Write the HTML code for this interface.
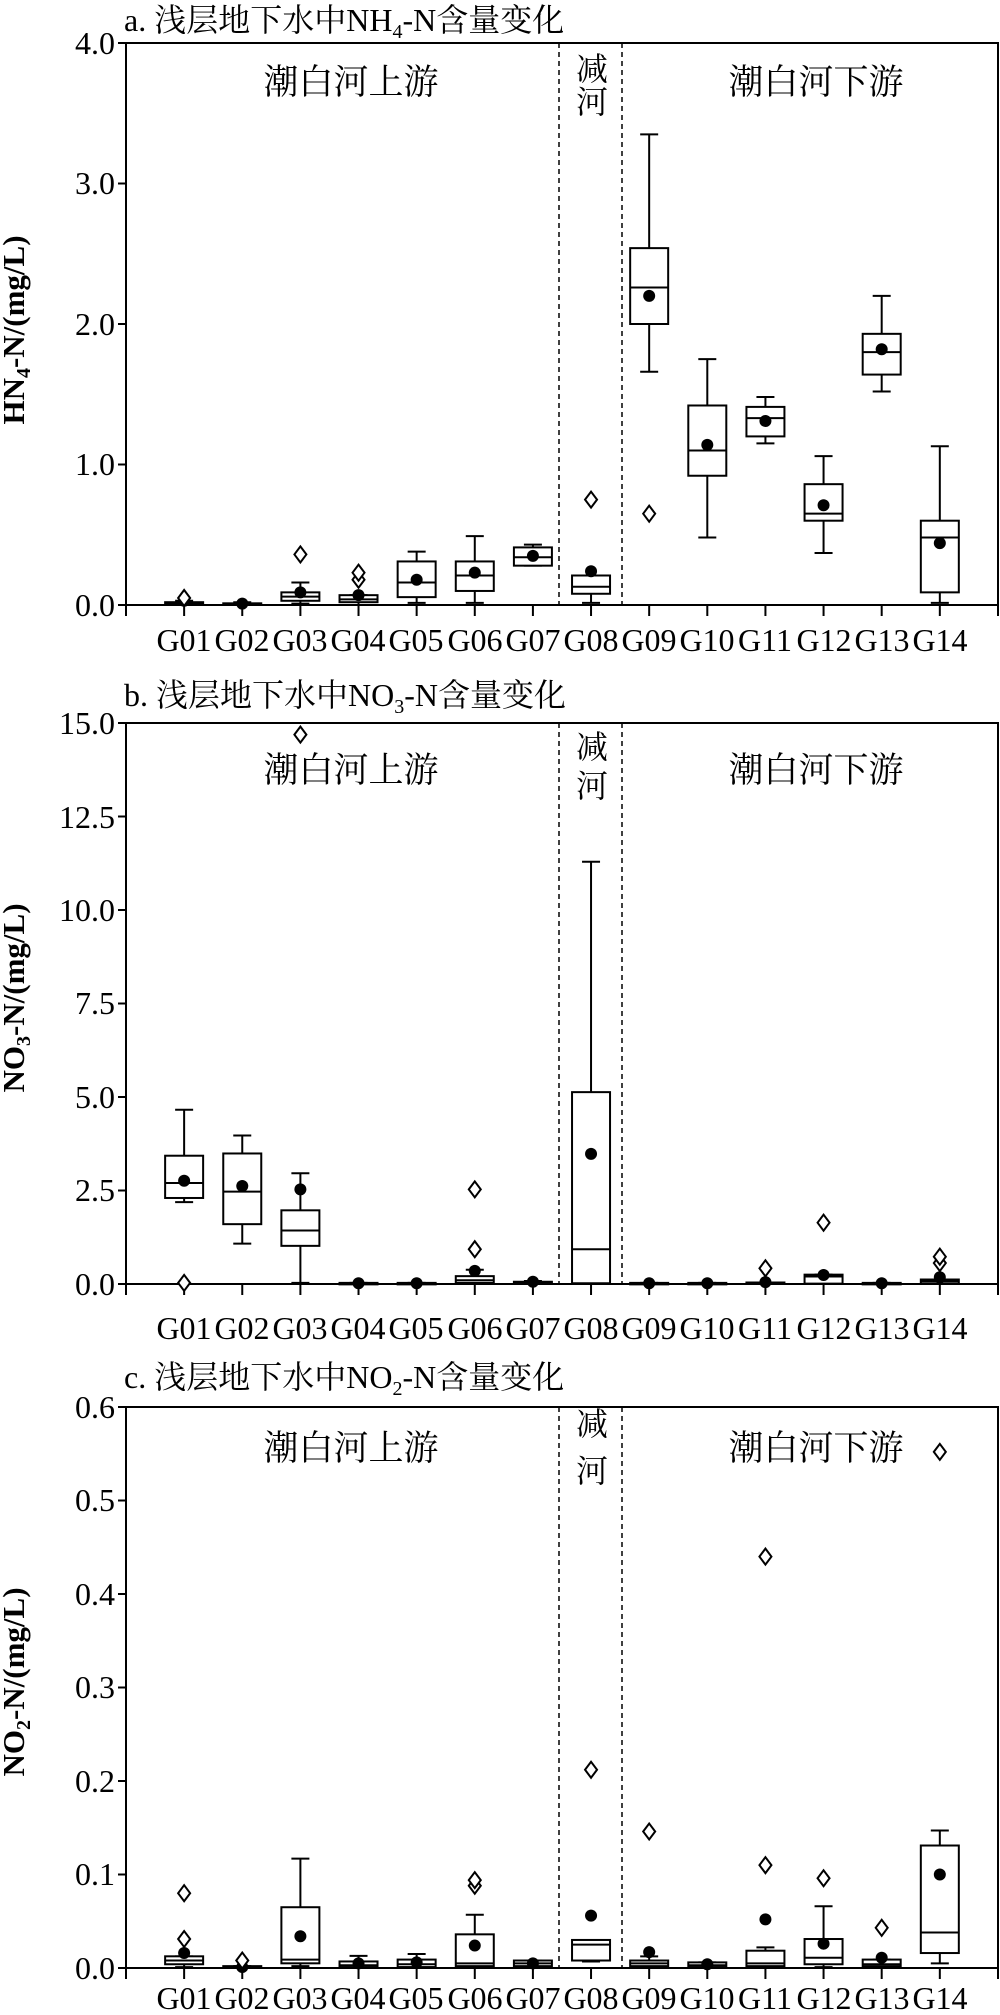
<!DOCTYPE html>
<html><head><meta charset="utf-8"><style>
html,body{margin:0;padding:0;background:#fff;}
svg{display:block;}
text{font-family:"Liberation Serif","Noto Serif CJK SC","Noto Sans CJK SC",serif;fill:#000;}
.t{font-size:32px;}
.tk{font-size:32px;}
.rg{font-size:35px;}
.yl{font-size:31px;font-weight:bold;}
</style></head><body>
<svg id="s" width="1000" height="2015" viewBox="0 0 1000 2015" xmlns="http://www.w3.org/2000/svg">
<text class="t" x="124" y="31">a. 浅层地下水中NH<tspan font-size="20" dy="7">4</tspan><tspan dy="-7">-N含量变化</tspan></text>
<text class="t" x="124" y="706">b. 浅层地下水中NO<tspan font-size="20" dy="7">3</tspan><tspan dy="-7">-N含量变化</tspan></text>
<text class="t" x="124" y="1388">c. 浅层地下水中NO<tspan font-size="20" dy="7">2</tspan><tspan dy="-7">-N含量变化</tspan></text>
<text class="yl" transform="translate(24,330) rotate(-90)" text-anchor="middle">HN<tspan font-size="20" dy="6">4</tspan><tspan dy="-6">-N/(mg/L)</tspan></text>
<text class="yl" transform="translate(24,998) rotate(-90)" text-anchor="middle">NO<tspan font-size="20" dy="6">3</tspan><tspan dy="-6">-N/(mg/L)</tspan></text>
<text class="yl" transform="translate(24,1682) rotate(-90)" text-anchor="middle">NO<tspan font-size="20" dy="6">2</tspan><tspan dy="-6">-N/(mg/L)</tspan></text>
<g class="tk" text-anchor="end">
<text x="115" y="54">4.0</text><text x="115" y="194">3.0</text><text x="115" y="335">2.0</text><text x="115" y="475">1.0</text><text x="115" y="616">0.0</text>
<text x="115" y="734">15.0</text><text x="115" y="828">12.5</text><text x="115" y="921">10.0</text><text x="115" y="1014">7.5</text><text x="115" y="1108">5.0</text><text x="115" y="1201">2.5</text><text x="115" y="1295">0.0</text>
<text x="115" y="1418">0.6</text><text x="115" y="1511">0.5</text><text x="115" y="1605">0.4</text><text x="115" y="1698">0.3</text><text x="115" y="1792">0.2</text><text x="115" y="1885">0.1</text><text x="115" y="1979">0.0</text>
</g>
<g class="tk" text-anchor="middle">
<text x="184" y="651">G01</text><text x="242" y="651">G02</text><text x="300" y="651">G03</text><text x="358" y="651">G04</text><text x="416" y="651">G05</text><text x="475" y="651">G06</text><text x="533" y="651">G07</text><text x="591" y="651">G08</text><text x="649" y="651">G09</text><text x="707" y="651">G10</text><text x="765" y="651">G11</text><text x="824" y="651">G12</text><text x="882" y="651">G13</text><text x="940" y="651">G14</text>
<text x="184" y="1339">G01</text><text x="242" y="1339">G02</text><text x="300" y="1339">G03</text><text x="358" y="1339">G04</text><text x="416" y="1339">G05</text><text x="475" y="1339">G06</text><text x="533" y="1339">G07</text><text x="591" y="1339">G08</text><text x="649" y="1339">G09</text><text x="707" y="1339">G10</text><text x="765" y="1339">G11</text><text x="824" y="1339">G12</text><text x="882" y="1339">G13</text><text x="940" y="1339">G14</text>
<text x="184" y="2009">G01</text><text x="242" y="2009">G02</text><text x="300" y="2009">G03</text><text x="358" y="2009">G04</text><text x="416" y="2009">G05</text><text x="475" y="2009">G06</text><text x="533" y="2009">G07</text><text x="591" y="2009">G08</text><text x="649" y="2009">G09</text><text x="707" y="2009">G10</text><text x="765" y="2009">G11</text><text x="824" y="2009">G12</text><text x="882" y="2009">G13</text><text x="940" y="2009">G14</text>
</g>
<g class="rg" text-anchor="middle">
<text x="351" y="94">潮白河上游</text><text x="816" y="94">潮白河下游</text><text x="592" y="80" font-size="32">减</text><text x="592" y="113" font-size="32">河</text>
<text x="351" y="782">潮白河上游</text><text x="816" y="782">潮白河下游</text><text x="592" y="758" font-size="32">减</text><text x="592" y="797" font-size="32">河</text>
<text x="351" y="1460">潮白河上游</text><text x="816" y="1460">潮白河下游</text><text x="592" y="1435" font-size="32">减</text><text x="592" y="1482" font-size="32">河</text>
</g>
<g id="g"></g>
</svg>
<script>
var NS="http://www.w3.org/2000/svg",G=document.getElementById("g");
function el(t,a){var e=document.createElementNS(NS,t);for(var k in a)e.setAttribute(k,a[k]);G.appendChild(e);return e;}
function line(x1,y1,x2,y2,w,d){var a={x1:x1,y1:y1,x2:x2,y2:y2,stroke:"#000","stroke-width":w||2};if(d)a["stroke-dasharray"]=d;el("line",a);}
var panels=[
 {top:43,zero:605,ppu:140.5,ticks:[0,1,2,3,4],data:[
 [0,0.005,0.01,0.02,0.03,0.03,[0.05]],
 [0,0.003,0.006,0.012,0.02,0.01,[]],
 [0.01,0.03,0.06,0.09,0.16,0.09,[0.36]],
 [0,0.02,0.04,0.07,0.07,0.07,[0.18,0.23]],
 [0.015,0.056,0.16,0.31,0.38,0.18,[]],
 [0.015,0.10,0.21,0.31,0.49,0.23,[]],
 [0.28,0.28,0.34,0.41,0.43,0.35,[]],
 [0.015,0.08,0.13,0.21,0.21,0.24,[0.75]],
 [1.66,2.0,2.26,2.54,3.35,2.2,[0.65]],
 [0.48,0.92,1.10,1.42,1.75,1.14,[]],
 [1.15,1.2,1.33,1.41,1.48,1.31,[]],
 [0.37,0.6,0.65,0.86,1.06,0.71,[]],
 [1.52,1.64,1.80,1.93,2.2,1.82,[]],
 [0.015,0.09,0.48,0.6,1.13,0.44,[]]]},
 {top:723,zero:1284,ppu:37.4,ticks:[0,2.5,5,7.5,10,12.5,15],data:[
 [2.19,2.3,2.7,3.43,4.66,2.76,[0.03]],
 [1.08,1.6,2.47,3.49,3.97,2.62,[]],
 [0.03,1.02,1.43,1.97,2.96,2.53,[14.69]],
 [0,0.01,0.02,0.03,0.03,0.02,[]],
 [0,0.01,0.02,0.03,0.03,0.02,[]],
 [0,0.03,0.1,0.21,0.38,0.35,[0.93,2.53]],
 [0,0.02,0.04,0.06,0.08,0.06,[]],
 [0,0.02,0.93,5.13,11.29,3.48,[]],
 [0,0.01,0.02,0.03,0.03,0.02,[]],
 [0,0.01,0.02,0.03,0.03,0.02,[]],
 [0,0.01,0.02,0.04,0.04,0.05,[0.42]],
 [0,0.01,0.2,0.25,0.25,0.24,[1.64]],
 [0,0.01,0.02,0.03,0.03,0.02,[]],
 [0,0.02,0.08,0.12,0.12,0.18,[0.56,0.73]]]},
 {top:1407,zero:1968,ppu:935,ticks:[0,0.1,0.2,0.3,0.4,0.5,0.6],data:[
 [0.001,0.004,0.008,0.0125,0.0125,0.016,[0.031,0.08]],
 [0,0.0005,0.001,0.002,0.002,0.001,[0.008]],
 [0.002,0.005,0.009,0.065,0.117,0.034,[]],
 [0.001,0.001,0.003,0.007,0.013,0.005,[]],
 [0.001,0.001,0.004,0.009,0.015,0.006,[]],
 [0.001,0.002,0.005,0.036,0.057,0.024,[0.088,0.094]],
 [0.002,0.002,0.005,0.008,0.008,0.005,[]],
 [0.007,0.008,0.025,0.030,0.030,0.056,[0.212]],
 [0.001,0.002,0.005,0.008,0.0125,0.017,[0.146]],
 [0.001,0.001,0.003,0.006,0.006,0.004,[]],
 [0.001,0.002,0.005,0.0185,0.022,0.052,[0.11,0.44]],
 [0.001,0.004,0.011,0.031,0.066,0.026,[0.096]],
 [0.001,0.002,0.004,0.009,0.009,0.011,[0.043]],
 [0.005,0.016,0.038,0.131,0.147,0.10,[0.552]]]}
];
panels.forEach(function(p){
 var L=126,R=998;
 el("rect",{x:L,y:p.top,width:R-L,height:p.zero-p.top,fill:"none",stroke:"#000","stroke-width":2});
 line(559,p.top,559,p.zero,1.5,"5,4");line(622,p.top,622,p.zero,1.5,"5,4");
 p.ticks.forEach(function(v){var y=p.zero-v*p.ppu;line(L-8,y,L,y,2);});
 line(L,p.zero,L,p.zero+11,2);line(R,p.zero,R,p.zero+11,2);
 for(var i=1;i<=14;i++){var x=126+58.13*i;line(x,p.zero,x,p.zero+11,2);}
 p.data.forEach(function(d,i){
  var x=126+58.13*(i+1),Y=function(v){return p.zero-v*p.ppu;},hw=19,cw=9;
  line(x,Y(d[0]),x,Y(d[1]),2);line(x,Y(d[3]),x,Y(d[4]),2);
  line(x-cw,Y(d[0]),x+cw,Y(d[0]),2);line(x-cw,Y(d[4]),x+cw,Y(d[4]),2);
  var yt=Y(d[3]),yb=Y(d[1]);
  el("rect",{x:x-hw,y:yt,width:2*hw,height:Math.max(yb-yt,1.5),fill:"#fff",stroke:"#000","stroke-width":2});
  line(x-hw,Y(d[2]),x+hw,Y(d[2]),2);
  el("circle",{cx:x,cy:Y(d[5]),r:6,fill:"#000"});
  d[6].forEach(function(o){var y=Y(o);el("polygon",{points:(x-6)+","+y+" "+x+","+(y-8)+" "+(x+6)+","+y+" "+x+","+(y+8),fill:"#fff",stroke:"#000","stroke-width":2});});
 });
});
</script>
</body></html>
